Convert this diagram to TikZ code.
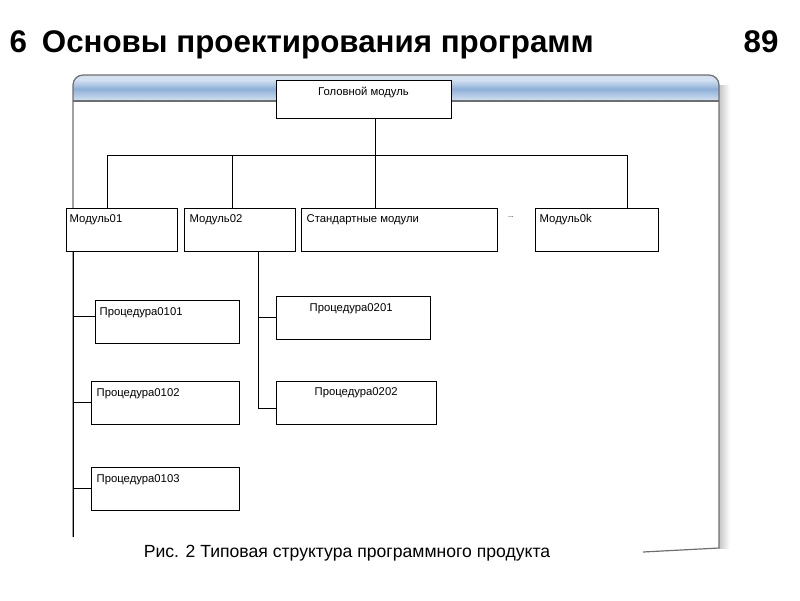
\documentclass[tikz,border=0pt]{standalone}
\usepackage{fontspec}
\setmainfont{Liberation Sans}
\usepackage{tikz}

\definecolor{bandtop}{HTML}{D2E0F0}
\definecolor{bandmid}{HTML}{8EAFD8}
\definecolor{bandbot}{HTML}{D6E3F2}
\definecolor{framegray}{HTML}{6E6E6E}

\begin{document}
\begin{tikzpicture}[x=1pt,y=-1pt,
    box/.style={draw=black,fill=white,line width=1pt,inner sep=0pt},
    lbl/.style={anchor=north west,inner sep=0pt,font=\fontsize{11.3}{13}\selectfont},
    conn/.style={draw=black,line width=1pt}]
                    \useasboundingbox (0,0) rectangle (800,600);
                    % window frame
                    \fill[left color=gray!45,right color=white] (719,85) rectangle (730,548);
                    \fill[bandtop] (73,101) -- (73,85) arc[start angle=180,end angle=270,radius=10] -- (709,75)
                        arc[start angle=270,end angle=360,radius=10] -- (719,101) -- cycle;
                    \shade[top color=bandtop,bottom color=bandmid] (73,80) rectangle (719,89);
                    \shade[top color=bandmid,bottom color=bandbot] (73,89) rectangle (719,101);
                    \draw[framegray,line width=1.2pt] (73,101) -- (719,101);
                    \draw[framegray,line width=1.2pt] (73,537) -- (73,85) arc[start angle=180,end angle=270,radius=10]
                        -- (709,75) arc[start angle=270,end angle=360,radius=10] -- (719,548) -- (643,552);

                    \node[anchor=base west,font=\bfseries\fontsize{31.3}{35}\selectfont] (title) at (6,52) {6\hspace{15pt}Основы проектирования программ};
                    \node[anchor=base east,font=\bfseries\fontsize{31.3}{35}\selectfont] (page) at (782,52) {89};

                    \node[box,minimum width=175,minimum height=38,label={[lbl,anchor=north,yshift=-7pt]north:Головной модуль}] (head) at (363.5,99) {};
                    \node[box,minimum width=111,minimum height=43,label={[lbl,xshift=4pt,yshift=-7pt]north west:Модуль01}] (M1) at (121.5,229.5) {};
                    \node[box,minimum width=111,minimum height=43,label={[lbl,xshift=6pt,yshift=-7pt]north west:Модуль02}] (M2) at (239.5,229.5) {};
                    \node[box,minimum width=196,minimum height=43,label={[lbl,xshift=6pt,yshift=-7pt]north west:Стандартные модули}] (MS) at (399,229.5) {};
                    \node[font=\fontsize{7}{8}\selectfont,inner sep=0pt] (dots) at (511,217) {...};
                    \node[box,minimum width=123,minimum height=43,label={[lbl,xshift=5pt,yshift=-7pt]north west:Модуль0k}] (Mk) at (596.5,229.5) {};

                    \node[box,minimum width=144,minimum height=43,label={[lbl,xshift=5pt,yshift=-8pt]north west:Процедура0101}] (P0101) at (167,321.5) {};
                    \node[box,minimum width=148,minimum height=43,label={[lbl,xshift=6pt,yshift=-8pt]north west:Процедура0102}] (P0102) at (165,402.5) {};
                    \node[box,minimum width=148,minimum height=43,label={[lbl,xshift=6pt,yshift=-8pt]north west:Процедура0103}] (P0103) at (165,488.5) {};
                    \node[box,minimum width=154,minimum height=43,label={[lbl,xshift=34pt,yshift=-8pt]north west:Процедура0201}] (P0201) at (353,317.5) {};
                    \node[box,minimum width=160,minimum height=43,label={[lbl,xshift=39pt,yshift=-7pt]north west:Процедура0202}] (P0202) at (356,402.5) {};

                    \node[font=\fontsize{17.6}{21}\selectfont] (caption) at (347,553) {Рис. 2 Типовая структура программного продукта};

                    % bus
                    \coordinate (busL) at (107,155);
                    \coordinate (busR) at (627,155);
                    \draw[conn] ([xshift=11.5pt]head.south) -- ([xshift=11.5pt]head.south |- busL);
                    \draw[conn] (busL) -- (busR);
                    \draw[conn] (busL) -- (busL |- M1.north);
                    \draw[conn] (busL -| 232,0) -- ([xshift=-7.5pt]M2.north);
                    \draw[conn] (busL -| 375,0) -- ([xshift=-24pt]MS.north);
                    \draw[conn] (busR) -- (busR |- Mk.north);

                    % procedures
                    \coordinate (trunk1) at (73,537);
                    \draw[conn] ([xshift=-48.5pt]M1.south) -- (trunk1);
                    \draw[conn] ([yshift=5pt]P0101.west) -- ([yshift=5pt]P0101.west -| trunk1);
                    \draw[conn] (P0102.west) -- (P0102.west -| trunk1);
                    \draw[conn] (P0103.west) -- (P0103.west -| trunk1);
                    \draw[conn] ([xshift=18.5pt]M2.south) |- ([yshift=-5.5pt]P0202.west);
                    \draw[conn] (P0201.west) -- ++(-18,0);
                \end{tikzpicture}
\end{document}
